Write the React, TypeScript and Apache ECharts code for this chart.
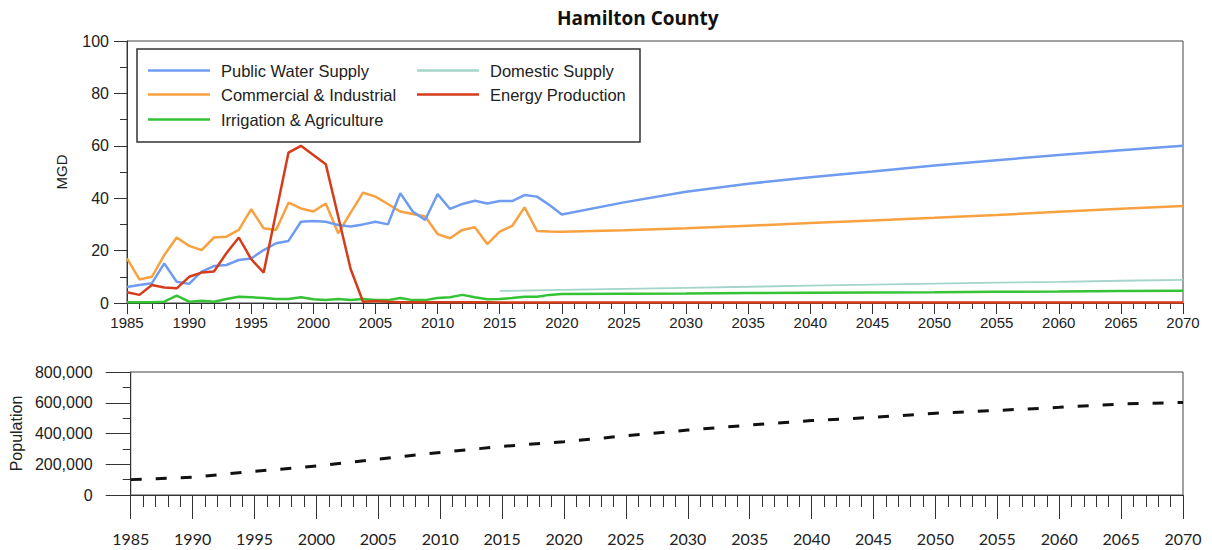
import React, { useEffect, useRef } from "react";
import * as echarts from "echarts";

const histYears = Array.from({ length: 36 }, (_, i) => 1985 + i);
const projYears = [2025, 2030, 2035, 2040, 2045, 2050, 2055, 2060, 2065, 2070];

const publicWaterHist = [6.1, 6.9, 7.5, 15.1, 8.1, 7.3, 12, 14.1, 14.5, 16.4, 17, 20.2, 22.8, 23.7, 31, 31.3, 31, 29.8, 29.2, 30, 31, 30, 41.9, 34.9, 31.7, 41.6, 35.9, 37.8, 39, 38, 38.9, 38.9, 41.2, 40.6, 37.4, 33.8];
const publicWaterProj = [38.4, 42.5, 45.5, 48, 50.2, 52.5, 54.5, 56.5, 58.3, 60];

const commercialHist = [17, 9, 10, 18.3, 25, 21.8, 20.2, 25, 25.3, 27.9, 35.8, 28.5, 27.9, 38.3, 36.1, 34.9, 38, 26.6, 34.5, 42.1, 40.6, 37.8, 34.9, 34, 33, 26.3, 24.7, 27.9, 28.9, 22.5, 27.2, 29.4, 36.5, 27.5, 27.3, 27.2];
const commercialProj = [27.8, 28.5, 29.5, 30.5, 31.5, 32.5, 33.6, 34.8, 36, 37];

const irrigationHist = [0.3, 0.3, 0.3, 0.5, 2.8, 0.5, 0.9, 0.5, 1.5, 2.4, 2.2, 1.9, 1.5, 1.5, 2.2, 1.4, 1.1, 1.5, 1.1, 1.5, 1.1, 1.1, 1.9, 1.1, 1.1, 1.9, 2.2, 3.1, 2.2, 1.4, 1.5, 1.9, 2.4, 2.4, 3.1, 3.4];
const irrigationProj = [3.5, 3.6, 3.8, 3.9, 4.0, 4.1, 4.3, 4.4, 4.6, 4.7];

const energyHist = [4.1, 3.1, 6.9, 5.9, 5.6, 10, 11.6, 12, 19, 25, 16.7, 11.6, 34.5, 57.4, 60, 56.5, 53, 33, 13, 0.5, 0.8, 0.5, 0.3, 0.3, 0.3, 0.3, 0.3, 0.3, 0.3, 0.3, 0.2, 0.2, 0.2, 0.2, 0.2, 0.2];
const energyProj = [0.2, 0.2, 0.2, 0.2, 0.2, 0.2, 0.2, 0.2, 0.2, 0.2];

const domesticYears = [2015, 2020, 2025, 2030, 2035, 2040, 2045, 2050, 2055, 2060, 2065, 2070];
const domesticValues = [4.6, 5.0, 5.4, 5.8, 6.2, 6.6, 7.0, 7.4, 7.8, 8.1, 8.5, 8.8];

const popYears = [1985, 1990, 1995, 2000, 2005, 2010, 2015, 2020, 2025, 2030, 2035, 2040, 2045, 2050, 2055, 2060, 2065, 2070];
const popValues = [100000, 116000, 154000, 188000, 233000, 277000, 316000, 347000, 385000, 422000, 455000, 484000, 505000, 532000, 550000, 570000, 592000, 602000];

const seriesNames = ["Public Water Supply", "Domestic Supply", "Commercial & Industrial", "Energy Production", "Irrigation & Agriculture"];

const pairs = (xs: number[], ys: number[]) => xs.map((x, i) => [x, ys[i]]);
const joined = (h: number[], p: number[]) => pairs(histYears.concat(projYears), h.concat(p));

const AXIS = "#333";
const SANS = "Liberation Sans, Arial, sans-serif";

export default function App() {
  const ref = useRef<HTMLDivElement>(null);
  useEffect(() => {
    if (!ref.current) return;
    const chart = echarts.init(ref.current, undefined, { renderer: "svg" });
    const xAxisCommon = (gridIndex: number, tickLen: number, minorLen: number, margin: number, font: string, size: number) => ({
      gridIndex,
      type: "value",
      min: 1985,
      max: 2070,
      interval: 5,
      axisLine: { show: true, lineStyle: { color: AXIS, width: 1 } },
      axisTick: { show: true, length: tickLen, lineStyle: { color: AXIS, width: 1 } },
      minorTick: { show: true, splitNumber: 5, length: minorLen, lineStyle: { color: AXIS, width: 1 } },
      splitLine: { show: false },
      minorSplitLine: { show: false },
      axisLabel: { margin, fontSize: size, fontFamily: font, color: "#222", formatter: (v: number) => String(v) },
    });
    const lineSeries = (name: string, data: number[][], color: string, width: number) => ({
      name,
      type: "line",
      xAxisIndex: 0,
      yAxisIndex: 0,
      data,
      symbol: "none",
      showSymbol: false,
      lineStyle: { color, width },
      itemStyle: { color },
      z: 2,
    });
    const legendAt = (name: string, left: number, top: number) => ({
      data: [name],
      left,
      top,
      padding: 0,
      icon: "rect",
      itemWidth: 62,
      itemHeight: 2.5,
      selectedMode: false,
      textStyle: { fontSize: 16.5, fontFamily: SANS, color: "#222", padding: [0, 0, 0, 6] },
      z: 6,
    });
    const option: any = {
      animation: false,
      backgroundColor: "#fff",
      title: {
        text: "Hamilton County",
        left: 557,
        top: 8,
        padding: 0,
        textStyle: { fontFamily: "Open Sans", fontWeight: "bold", fontSize: 19, color: "#111" },
      },
      grid: [
        { left: 127, top: 41, width: 1056, height: 262, show: true, borderColor: "#444", borderWidth: 1, backgroundColor: "transparent" },
        { left: 127, top: 372, width: 1056, height: 123, show: true, borderColor: "#444", borderWidth: 1, backgroundColor: "transparent" },
      ],
      xAxis: [
        xAxisCommon(0, 11, 6, 12, SANS, 15),
        xAxisCommon(1, 24, 12, 35, "Lato", 16),
      ],
      yAxis: [
        {
          gridIndex: 0,
          type: "value",
          min: 0,
          max: 100,
          interval: 20,
          name: "MGD",
          nameLocation: "middle",
          nameGap: 58,
          nameTextStyle: { fontSize: 15, fontFamily: SANS, color: "#222" },
          axisLine: { show: true, lineStyle: { color: AXIS } },
          axisTick: { show: true, length: 13, lineStyle: { color: AXIS } },
          minorTick: { show: true, splitNumber: 2, length: 7, lineStyle: { color: AXIS } },
          splitLine: { show: false },
          axisLabel: { margin: 18, fontSize: 16, fontFamily: SANS, color: "#222" },
        },
        {
          gridIndex: 1,
          type: "value",
          min: 0,
          max: 800000,
          interval: 200000,
          name: "Population",
          nameLocation: "middle",
          nameGap: 105,
          nameTextStyle: { fontSize: 16, fontFamily: SANS, color: "#222" },
          axisLine: { show: true, lineStyle: { color: AXIS } },
          axisTick: { show: true, length: 25, lineStyle: { color: AXIS } },
          minorTick: { show: true, splitNumber: 2, length: 8, lineStyle: { color: AXIS } },
          splitLine: { show: false },
          axisLabel: {
            margin: 38,
            fontSize: 16,
            fontFamily: SANS,
            color: "#222",
            formatter: (v: number) => v.toLocaleString("en-US"),
          },
        },
      ],
      legend: [
        legendAt(seriesNames[0], 148, 62),
        legendAt(seriesNames[1], 417, 62),
        legendAt(seriesNames[2], 148, 86),
        legendAt(seriesNames[3], 417, 86),
        legendAt(seriesNames[4], 148, 111),
      ],
      graphic: [
        {
          type: "rect",
          shape: { x: 137, y: 49, width: 503, height: 93 },
          style: { fill: "#fff", stroke: "#333", lineWidth: 1.5 },
          z: 5,
        },
      ],
      series: [
        lineSeries(seriesNames[1], pairs(domesticYears, domesticValues), "#a3d5ca", 1.8),
        lineSeries(seriesNames[4], joined(irrigationHist, irrigationProj), "#35c235", 2.5),
        lineSeries(seriesNames[2], joined(commercialHist, commercialProj), "#f7a140", 2.5),
        lineSeries(seriesNames[0], joined(publicWaterHist, publicWaterProj), "#6f9cf0", 2.5),
        lineSeries(seriesNames[3], joined(energyHist, energyProj), "#d43c1c", 2.5),
        {
          name: "Population",
          type: "line",
          xAxisIndex: 1,
          yAxisIndex: 1,
          data: pairs(popYears, popValues),
          symbol: "none",
          showSymbol: false,
          lineStyle: { color: "#111", width: 3, type: [11, 14] },
        },
      ],
    };
    chart.setOption(option);
    return () => chart.dispose();
  }, []);
  return <div ref={ref} style={{ position: "fixed", left: 0, top: 0, width: 1212, height: 550 }} />;
}
